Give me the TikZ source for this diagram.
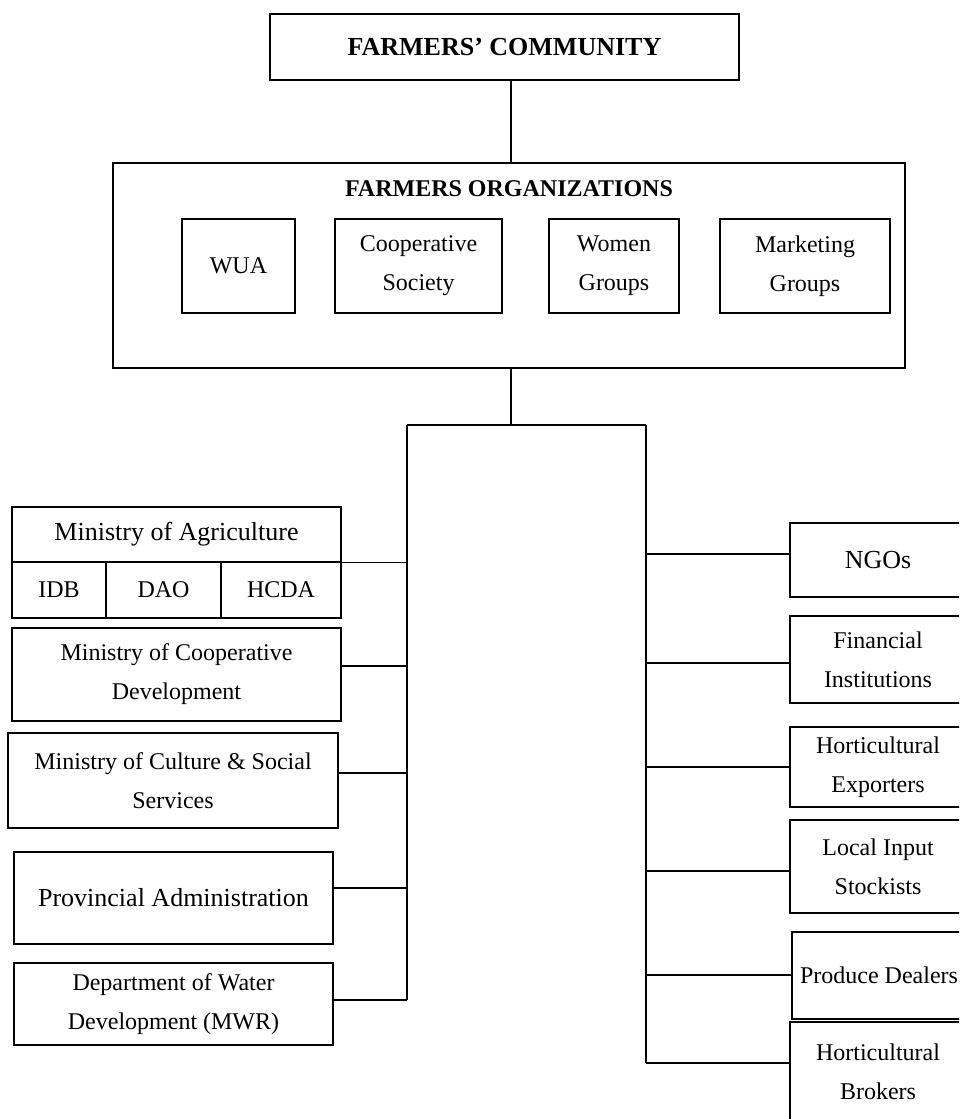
\documentclass[tikz,border=0pt]{standalone}
\usepackage{fontspec}
\setmainfont{Liberation Serif}
\begin{document}
\begin{tikzpicture}[
    x=0.5pt, y=-0.5pt,
    font=\fontsize{12}{19.5}\selectfont,
    riquadro/.style={draw,line width=0.75pt,inner sep=0pt,align=center},
    grande/.style={font=\fontsize{13}{19.5}\selectfont},
    titolo/.style={font=\bfseries\fontsize{13}{16}\selectfont},
    linea/.style={line width=0.75pt}]

  \useasboundingbox (0,0) rectangle (959,1119);
  \clip (0,0) rectangle (959,1119);

  \node[riquadro,titolo,minimum width=234.5pt,minimum height=33pt] (comm) at (504.5,47) {FARMERS' COMMUNITY};

  \node[riquadro,minimum width=396pt,minimum height=102.5pt] (org) at (509,265.5) {};
  \node[titolo,font=\bfseries\fontsize{12}{16}\selectfont] (orgt) at (509,189) {FARMERS ORGANIZATIONS};
  \node[riquadro,minimum width=56.5pt,minimum height=47pt] (wua)   at (238.5,266) {WUA};
  \node[riquadro,minimum width=83.5pt,minimum height=47pt] (coop)  at (418.5,266) {Cooperative\\Society};
  \node[riquadro,minimum width=65pt,minimum height=47pt]   (women) at (614,266)   {Women\\Groups};
  \node[riquadro,minimum width=85pt,minimum height=47pt]   (mkt)   at (805,266)   {Marketing\\Groups};

  \coordinate (hub)  at (511,425);
  \coordinate (lbar) at (407,425);
  \coordinate (rbar) at (646,425);

  \node[riquadro,grande,minimum width=164.5pt,minimum height=27.5pt] (moa)  at (176.5,534.5) {Ministry of Agriculture};
  \node[riquadro,minimum width=47pt,minimum height=28pt]   (idb)  at (59,590)    {IDB};
  \node[riquadro,minimum width=57.5pt,minimum height=28pt] (dao)  at (163.5,590) {DAO};
  \node[riquadro,minimum width=60pt,minimum height=28pt]   (hcda) at (281,590)   {HCDA};
  \node[riquadro,minimum width=164.5pt,minimum height=46.5pt] (mcd)  at (176.5,674.5) {Ministry of Cooperative\\Development};
  \node[riquadro,minimum width=165pt,minimum height=47.5pt]   (cult) at (173,780.5)   {Ministry of Culture \& Social\\Services};
  \node[riquadro,grande,minimum width=159.5pt,minimum height=46pt] (prov) at (173.5,898) {Provincial Administration};
  \node[riquadro,minimum width=159.5pt,minimum height=41pt]   (dwd)  at (173.5,1004)  {Department of Water\\Development (MWR)};

  \node[riquadro,grande,minimum width=88pt,minimum height=37pt] (ngo) at (878,560)    {NGOs};
  \node[riquadro,minimum width=88pt,minimum height=43.5pt] (fin) at (878,659.5)  {Financial\\Institutions};
  \node[riquadro,minimum width=88pt,minimum height=40pt]   (exp) at (878,767)    {Horticultural\\Exporters};
  \node[riquadro,minimum width=88pt,minimum height=46.5pt] (loc) at (878,866.5)  {Local Input\\Stockists};
  \node[riquadro,minimum width=87pt,minimum height=43.5pt] (pro) at (879,975.5)  {Produce Dealers};
  \node[riquadro,minimum width=88pt,minimum height=50pt]   (brk) at (878,1072)   {Horticultural\\Brokers};

  \draw[linea] (comm.south -| hub) -- (org.north -| hub);
  \draw[linea] (org.south -| hub) -- (hub);
  \draw[linea] (lbar) -- (rbar);
  \draw[linea] (lbar) -- ([yshift=2pt]dwd.east -| lbar);
  \draw[linea] (rbar) -- ([yshift=4.5pt]brk.west -| rbar);

  \draw[linea] ([yshift=0.25pt]moa.south east) -- ([yshift=0.25pt]moa.south east -| lbar);
  \foreach \n/\dy in {mcd/4.25pt,cult/3.75pt,prov/5pt,dwd/2pt}
    \draw[linea] ([yshift=\dy]\n.east) -- ([yshift=\dy]\n.east -| lbar);
  \foreach \n/\dy in {ngo/3pt,fin/-1.75pt,exp/0pt,loc/-2.25pt,pro/0.25pt,brk/4.5pt}
    \draw[linea] ([yshift=\dy]\n.west) -- ([yshift=\dy]\n.west -| rbar);

\end{tikzpicture}
\end{document}
